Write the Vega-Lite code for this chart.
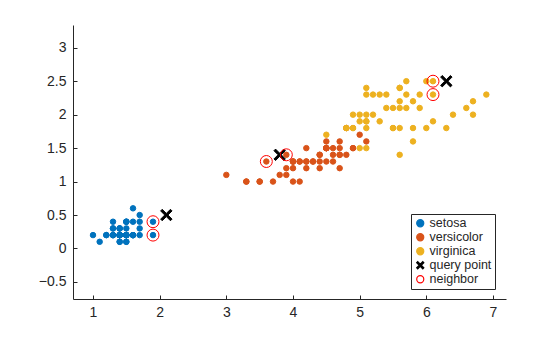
{
  "$schema": "https://vega.github.io/schema/vega-lite/v6.json",
  "width": 433,
  "height": 274,
  "autosize": {"type": "none"},
  "padding": {"left": 73, "top": 25, "right": 54, "bottom": 38},
  "background": "white",
  "config": {
    "view": {"stroke": null},
    "font": "Liberation Sans",
    "axis": {
      "grid": false,
      "domainColor": "#262626",
      "tickColor": "#262626",
      "labelColor": "#262626",
      "labelFont": "Liberation Sans",
      "labelFontSize": 14,
      "tickSize": -4,
      "title": null,
      "format": "~g"
    },
    "legend": {"symbolSize": 50, "symbolStrokeWidth": 1.2}
  },
  "data": {
    "values": [
      {"s":"setosa","x":1.4,"y":0.2},{"s":"setosa","x":1.4,"y":0.2},{"s":"setosa","x":1.3,"y":0.2},{"s":"setosa","x":1.5,"y":0.2},{"s":"setosa","x":1.4,"y":0.2},
      {"s":"setosa","x":1.7,"y":0.4},{"s":"setosa","x":1.4,"y":0.3},{"s":"setosa","x":1.5,"y":0.2},{"s":"setosa","x":1.4,"y":0.2},{"s":"setosa","x":1.5,"y":0.1},
      {"s":"setosa","x":1.5,"y":0.2},{"s":"setosa","x":1.6,"y":0.2},{"s":"setosa","x":1.4,"y":0.1},{"s":"setosa","x":1.1,"y":0.1},{"s":"setosa","x":1.2,"y":0.2},
      {"s":"setosa","x":1.5,"y":0.4},{"s":"setosa","x":1.3,"y":0.4},{"s":"setosa","x":1.4,"y":0.3},{"s":"setosa","x":1.7,"y":0.3},{"s":"setosa","x":1.5,"y":0.3},
      {"s":"setosa","x":1.7,"y":0.2},{"s":"setosa","x":1.5,"y":0.4},{"s":"setosa","x":1.0,"y":0.2},{"s":"setosa","x":1.7,"y":0.5},{"s":"setosa","x":1.9,"y":0.2},
      {"s":"setosa","x":1.6,"y":0.2},{"s":"setosa","x":1.6,"y":0.4},{"s":"setosa","x":1.5,"y":0.2},{"s":"setosa","x":1.4,"y":0.2},{"s":"setosa","x":1.6,"y":0.2},
      {"s":"setosa","x":1.6,"y":0.2},{"s":"setosa","x":1.5,"y":0.4},{"s":"setosa","x":1.5,"y":0.1},{"s":"setosa","x":1.4,"y":0.2},{"s":"setosa","x":1.5,"y":0.2},
      {"s":"setosa","x":1.2,"y":0.2},{"s":"setosa","x":1.3,"y":0.2},{"s":"setosa","x":1.4,"y":0.1},{"s":"setosa","x":1.3,"y":0.2},{"s":"setosa","x":1.5,"y":0.2},
      {"s":"setosa","x":1.3,"y":0.3},{"s":"setosa","x":1.3,"y":0.3},{"s":"setosa","x":1.3,"y":0.2},{"s":"setosa","x":1.6,"y":0.6},{"s":"setosa","x":1.9,"y":0.4},
      {"s":"setosa","x":1.4,"y":0.3},{"s":"setosa","x":1.6,"y":0.2},{"s":"setosa","x":1.4,"y":0.2},{"s":"setosa","x":1.5,"y":0.2},{"s":"setosa","x":1.4,"y":0.2},
      {"s":"versicolor","x":4.7,"y":1.4},{"s":"versicolor","x":4.5,"y":1.5},{"s":"versicolor","x":4.9,"y":1.5},{"s":"versicolor","x":4.0,"y":1.3},{"s":"versicolor","x":4.6,"y":1.5},
      {"s":"versicolor","x":4.5,"y":1.3},{"s":"versicolor","x":4.7,"y":1.6},{"s":"versicolor","x":3.3,"y":1.0},{"s":"versicolor","x":4.6,"y":1.3},{"s":"versicolor","x":3.9,"y":1.4},
      {"s":"versicolor","x":3.5,"y":1.0},{"s":"versicolor","x":4.2,"y":1.5},{"s":"versicolor","x":4.0,"y":1.0},{"s":"versicolor","x":4.7,"y":1.4},{"s":"versicolor","x":3.6,"y":1.3},
      {"s":"versicolor","x":4.4,"y":1.4},{"s":"versicolor","x":4.5,"y":1.5},{"s":"versicolor","x":4.1,"y":1.0},{"s":"versicolor","x":4.5,"y":1.5},{"s":"versicolor","x":3.9,"y":1.1},
      {"s":"versicolor","x":4.8,"y":1.8},{"s":"versicolor","x":4.0,"y":1.3},{"s":"versicolor","x":4.9,"y":1.5},{"s":"versicolor","x":4.7,"y":1.2},{"s":"versicolor","x":4.3,"y":1.3},
      {"s":"versicolor","x":4.4,"y":1.4},{"s":"versicolor","x":4.8,"y":1.4},{"s":"versicolor","x":5.0,"y":1.7},{"s":"versicolor","x":4.5,"y":1.5},{"s":"versicolor","x":3.5,"y":1.0},
      {"s":"versicolor","x":3.8,"y":1.1},{"s":"versicolor","x":3.7,"y":1.0},{"s":"versicolor","x":3.9,"y":1.2},{"s":"versicolor","x":5.1,"y":1.6},{"s":"versicolor","x":4.5,"y":1.5},
      {"s":"versicolor","x":4.5,"y":1.6},{"s":"versicolor","x":4.7,"y":1.5},{"s":"versicolor","x":4.4,"y":1.3},{"s":"versicolor","x":4.1,"y":1.3},{"s":"versicolor","x":4.0,"y":1.3},
      {"s":"versicolor","x":4.4,"y":1.2},{"s":"versicolor","x":4.6,"y":1.4},{"s":"versicolor","x":4.0,"y":1.2},{"s":"versicolor","x":3.3,"y":1.0},{"s":"versicolor","x":4.2,"y":1.3},
      {"s":"versicolor","x":4.2,"y":1.2},{"s":"versicolor","x":4.2,"y":1.3},{"s":"versicolor","x":4.3,"y":1.3},{"s":"versicolor","x":3.0,"y":1.1},{"s":"versicolor","x":4.1,"y":1.3},
      {"s":"virginica","x":6.0,"y":2.5},{"s":"virginica","x":5.1,"y":1.9},{"s":"virginica","x":5.9,"y":2.1},{"s":"virginica","x":5.6,"y":1.8},{"s":"virginica","x":5.8,"y":2.2},
      {"s":"virginica","x":6.6,"y":2.1},{"s":"virginica","x":4.5,"y":1.7},{"s":"virginica","x":6.3,"y":1.8},{"s":"virginica","x":5.8,"y":1.8},{"s":"virginica","x":6.1,"y":2.5},
      {"s":"virginica","x":5.1,"y":2.0},{"s":"virginica","x":5.3,"y":1.9},{"s":"virginica","x":5.5,"y":2.1},{"s":"virginica","x":5.0,"y":2.0},{"s":"virginica","x":5.1,"y":2.4},
      {"s":"virginica","x":5.3,"y":2.3},{"s":"virginica","x":5.5,"y":1.8},{"s":"virginica","x":6.7,"y":2.2},{"s":"virginica","x":6.9,"y":2.3},{"s":"virginica","x":5.0,"y":1.5},
      {"s":"virginica","x":5.7,"y":2.3},{"s":"virginica","x":4.9,"y":2.0},{"s":"virginica","x":6.7,"y":2.0},{"s":"virginica","x":4.9,"y":1.8},{"s":"virginica","x":5.7,"y":2.1},
      {"s":"virginica","x":6.0,"y":1.8},{"s":"virginica","x":4.8,"y":1.8},{"s":"virginica","x":4.9,"y":1.8},{"s":"virginica","x":5.6,"y":2.1},{"s":"virginica","x":5.8,"y":1.6},
      {"s":"virginica","x":6.1,"y":1.9},{"s":"virginica","x":6.4,"y":2.0},{"s":"virginica","x":5.6,"y":2.2},{"s":"virginica","x":5.1,"y":1.5},{"s":"virginica","x":5.6,"y":1.4},
      {"s":"virginica","x":6.1,"y":2.3},{"s":"virginica","x":5.6,"y":2.4},{"s":"virginica","x":5.5,"y":1.8},{"s":"virginica","x":4.8,"y":1.8},{"s":"virginica","x":5.4,"y":2.1},
      {"s":"virginica","x":5.6,"y":2.4},{"s":"virginica","x":5.1,"y":2.3},{"s":"virginica","x":5.1,"y":1.9},{"s":"virginica","x":5.9,"y":2.3},{"s":"virginica","x":5.7,"y":2.5},
      {"s":"virginica","x":5.2,"y":2.3},{"s":"virginica","x":5.0,"y":1.9},{"s":"virginica","x":5.2,"y":2.0},{"s":"virginica","x":5.4,"y":2.3},{"s":"virginica","x":5.1,"y":1.8},
      {"s":"query point","x":2.1,"y":0.5},{"s":"query point","x":3.8,"y":1.4},{"s":"query point","x":6.3,"y":2.5},
      {"s":"neighbor","x":1.9,"y":0.4},{"s":"neighbor","x":1.9,"y":0.2},
      {"s":"neighbor","x":3.9,"y":1.4},{"s":"neighbor","x":3.6,"y":1.3},
      {"s":"neighbor","x":6.1,"y":2.5},{"s":"neighbor","x":6.1,"y":2.3}
    ]
  },
  "encoding": {
    "x": {"field": "x", "type": "quantitative", "scale": {"domain": [0.7, 7.195], "nice": false, "zero": false},
          "axis": {"values": [1, 2, 3, 4, 5, 6, 7], "labelPadding": 10}},
    "y": {"field": "y", "type": "quantitative", "scale": {"domain": [-0.755, 3.34], "nice": false, "zero": false},
          "axis": {"values": [-0.5, 0, 0.5, 1, 1.5, 2, 2.5, 3], "labelPadding": 11}},
    "fill": {"field": "s", "type": "nominal",
             "scale": {"domain": ["setosa", "versicolor", "virginica", "query point", "neighbor"],
                       "range": ["#0072BD", "#D95319", "#EDB120", "#000000", "transparent"]},
             "legend": {"title": null, "orient": "none", "legendX": 338, "legendY": 189,
                        "strokeColor": "#262626", "fillColor": "white", "padding": 3,
                        "labelFontSize": 12.5, "labelFont": "Liberation Sans", "labelColor": "#262626",
                        "rowPadding": 1, "labelOffset": 3}},
    "stroke": {"field": "s", "type": "nominal",
               "scale": {"domain": ["setosa", "versicolor", "virginica", "query point", "neighbor"],
                         "range": ["#0072BD", "#D95319", "#EDB120", "#000000", "#FF0000"]}},
    "shape": {"field": "s", "type": "nominal",
              "scale": {"domain": ["setosa", "versicolor", "virginica", "query point", "neighbor"],
                        "range": ["circle", "circle", "circle", "M-1,-0.72L-0.72,-1L0,-0.28L0.72,-1L1,-0.72L0.28,0L1,0.72L0.72,1L0,0.28L-0.72,1L-1,0.72L-0.28,0Z", "circle"]}}
  },
  "layer": [
    {
      "transform": [{"filter": "datum.s === 'setosa' || datum.s === 'versicolor' || datum.s === 'virginica'"}],
      "mark": {"type": "point", "filled": false, "strokeWidth": 1, "opacity": 1, "size": 30}
    },
    {
      "transform": [{"filter": "datum.s === 'query point'"}],
      "mark": {"type": "point", "filled": false, "strokeWidth": 1, "opacity": 1, "size": 130}
    },
    {
      "transform": [{"filter": "datum.s === 'neighbor'"}],
      "mark": {"type": "point", "filled": false, "strokeWidth": 1, "opacity": 1, "size": 143}
    }
  ]
}
